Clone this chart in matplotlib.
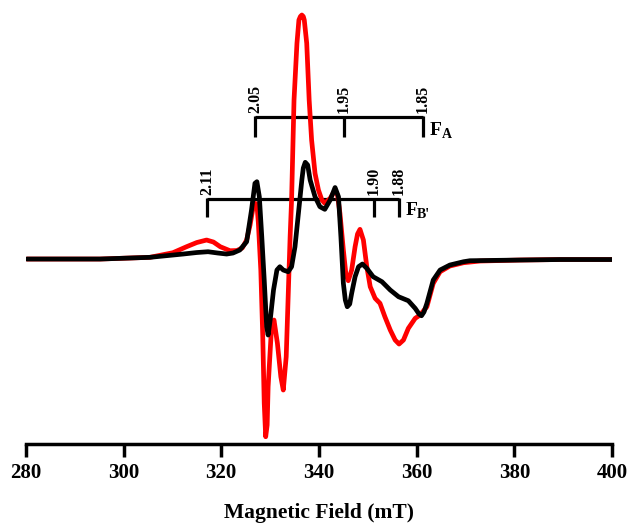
import matplotlib
matplotlib.use("Agg")
import matplotlib.pyplot as plt

# ---- data ----
red_field = [280.2, 295.2, 305.4, 310.1, 312.9, 315.0, 317.0, 318.4, 319.8, 321.8, 323.2, 324.3,
             325.2, 325.9, 326.5, 326.9, 327.3, 327.6, 328.1, 328.5, 328.8, 329.1, 329.4, 329.6,
             330.3, 330.8, 331.5, 332.2, 332.7, 333.3, 333.7, 334.1, 334.4, 334.9, 335.5, 335.9,
             336.2, 336.5, 336.8, 337.0, 337.5, 338.0, 338.5, 339.2, 339.9, 340.6, 341.2, 342.3,
             343.3, 343.8, 344.3, 345.0, 345.5, 346.0, 346.7, 347.4, 347.9, 348.4, 349.1, 349.8,
             350.5, 351.5, 352.5, 353.5, 354.6, 355.6, 356.4, 357.3, 358.3, 359.7, 360.7, 362.1,
             363.4, 364.8, 366.8, 369.6, 373.0, 381.2, 389.4, 400.0]
red_signal = [0, 0, 1.7, 6.3, 12.3, 16.5, 19, 17, 12.3, 8.3, 8.5, 11,
              19, 34, 51, 55.7, 55, 36, -11, -77.7, -144, -177.7, -166, -127.7,
              -67.7, -61, -84.3, -117.7, -131, -97.7, -37.7, 22.3, 59, 159, 215.7, 239,
              242.5, 244, 242.5, 239, 215.7, 159, 119, 85.7, 69, 59, 55.7, 60.7,
              69, 64, 45.7, 9, -14.3, -21.7, -11, 12.3, 25, 29.7, 19, -7.7,
              -27.7, -39.3, -44.3, -57.7, -71, -81, -85, -81, -69.3, -59.3, -56, -47.7,
              -24.3, -12.7, -7, -3.7, -2, -1, -0.5, -0.5]

black_field = [280.2, 295.2, 305.4, 312.2, 315.0, 317.3, 319.3, 321.1, 322.4, 323.8, 325.2, 326.2,
               326.9, 327.3, 327.8, 328.3, 328.8, 329.3, 329.6, 330.1, 330.7, 331.4, 332.0, 332.7,
               333.7, 334.4, 335.1, 335.8, 336.5, 336.8, 337.2, 337.7, 338.2, 339.2, 340.2, 341.2,
               342.3, 343.3, 344.0, 344.5, 345.0, 345.4, 345.8, 346.3, 346.7, 347.4, 348.1, 348.9,
               349.8, 351.1, 352.9, 354.6, 356.3, 358.3, 359.7, 360.5, 361.0, 361.5, 362.1, 363.4,
               364.8, 366.8, 369.6, 370.9, 381.2, 389.4, 400.0]
black_signal = [0, 0, 1.7, 5, 6.5, 7.3, 6, 5, 6, 9, 17.3, 49,
                75.7, 77.3, 62.3, 22.3, -21, -67.7, -76, -57.7, -31, -11, -7.7, -11,
                -12.7, -7.7, 12.3, 45.7, 79, 91, 96.7, 94, 79, 62.3, 52.3, 49.7,
                59, 71.5, 62.3, 22, -24.3, -41, -47.7, -45, -34.3, -17.7, -7.7, -5,
                -9.3, -17.7, -22.7, -31, -37.7, -41.7, -49.3, -55, -56.7, -53, -44.3, -21,
                -11, -6, -2.7, -1.7, -1, -0.5, -0.5]

x_ticks = [280, 300, 320, 340, 360, 380, 400]
x_label = "Magnetic Field (mT)"

# g-value markers (field positions)
fa_g_labels = ["2.05", "1.95", "1.85"]
fa_fields = [326.9, 345.1, 361.3]
fb_g_labels = ["2.11", "1.90", "1.88"]
fb_fields = [317.1, 351.2, 356.3]

# ---- figure ----
plt.rcParams['font.family'] = ['Liberation Serif', 'DejaVu Serif']
plt.rcParams['font.weight'] = 'bold'

fig = plt.figure(figsize=(6.3, 5.28), dpi=100)
ax = fig.add_axes([0.041, 0.159, 0.9305, 0.841])

ax.plot(red_field, red_signal, color='#ff0000', lw=3.4, solid_joinstyle='round',
        solid_capstyle='round', zorder=3)
ax.plot(black_field, black_signal, color='black', lw=3.4, solid_joinstyle='round',
        solid_capstyle='round', zorder=4)

# brackets
def bracket(fields, labels, y_line, y_tick, sub):
    ax.plot([fields[0], fields[-1]], [y_line, y_line], color='black', lw=2.3,
            solid_capstyle='butt', zorder=2)
    for f, lab in zip(fields, labels):
        ax.plot([f, f], [y_line + 1.5, y_tick], color='black', lw=2.3,
                solid_capstyle='butt', zorder=2)
        ax.text(f, y_line + 4, lab, rotation=90, ha='center', va='bottom',
                fontsize=11.5, fontweight='bold')
    ax.text(fields[-1] + 1.4, y_tick + 2, "F", ha='left', va='baseline',
            fontsize=14, fontweight='bold')
    ax.text(fields[-1] + 3.8, y_tick - 1, sub, ha='left', va='baseline',
            fontsize=10, fontweight='bold')

bracket(fa_fields, fa_g_labels, 142, 122, "A")
bracket(fb_fields, fb_g_labels, 60, 42, "B'")

ax.set_xlim(280, 400)
ax.set_ylim(-185, 259)
ax.set_xticks(x_ticks)
ax.set_xticklabels([str(t) for t in x_ticks])
ax.set_yticks([])
for s in ['left', 'right', 'top']:
    ax.spines[s].set_visible(False)
ax.spines['bottom'].set_linewidth(2.5)
ax.tick_params(axis='x', direction='out', length=9, width=2.5, pad=5, labelsize=15)
for lab in ax.get_xticklabels():
    lab.set_fontweight('bold')
ax.set_xlabel(x_label, fontsize=15.5, fontweight='bold', labelpad=14)

fig.savefig("out.png", dpi=100)
